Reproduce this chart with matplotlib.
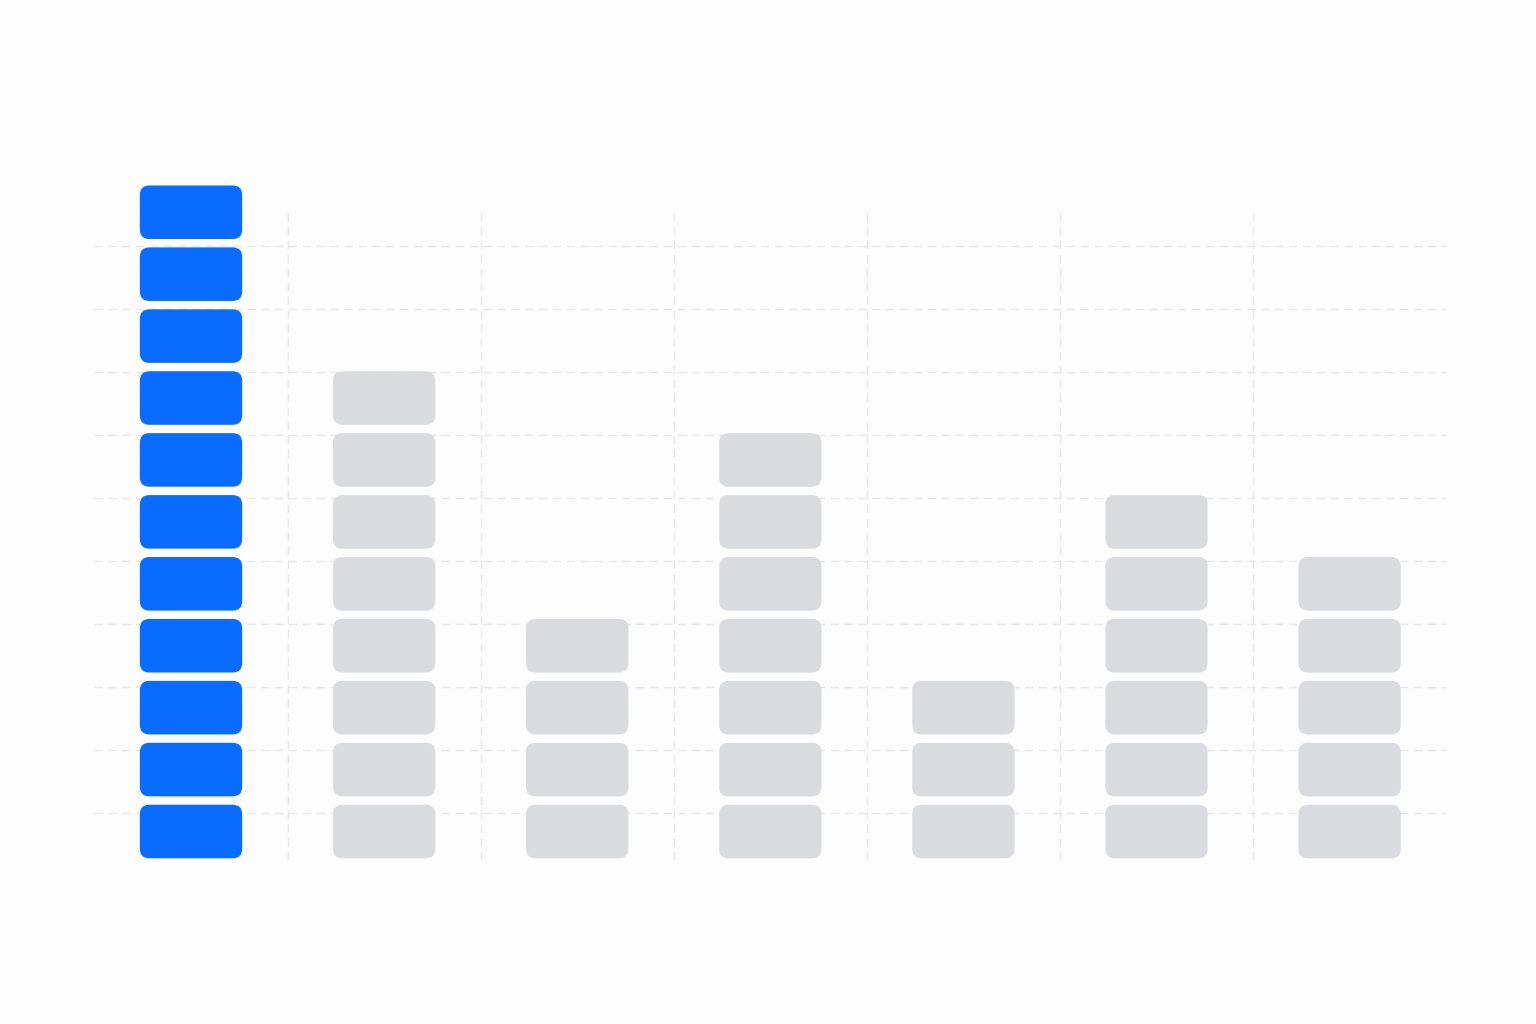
import numpy as np
import matplotlib
matplotlib.use("Agg")
import matplotlib.pyplot as plt
from matplotlib.patches import FancyBboxPatch

# stacked block counts per column (first column highlighted)
counts = [11, 8, 4, 7, 3, 6, 5]
highlight = [True, False, False, False, False, False, False]

blue = "#0A6CFF"
grey = "#D9DBDE"
grid_col = "#E6E7E9"

fig = plt.figure(figsize=(15.36, 10.24), dpi=100)
fig.patch.set_facecolor("#FDFDFD")
ax = fig.add_axes([0.0615, 0.160, 0.880, 0.635])
ax.set_facecolor("none")

ax.set_xlim(-0.5, 6.5)
ax.set_ylim(0, 10.5)

# pixels per data unit, used to keep the corners round
px_x = 0.880 * 1536 / 7.0
px_y = 0.635 * 1024 / 10.5
aspect = px_x / px_y

bw = 0.53
bh = 0.865
radius = 9.5 / px_x

for i, (n, hl) in enumerate(zip(counts, highlight)):
    for k in range(n):
        box = FancyBboxPatch((i - bw / 2, k + 0.03), bw, bh,
                             boxstyle="round,pad=0,rounding_size=%f" % radius,
                             mutation_aspect=aspect,
                             facecolor=blue if hl else grey,
                             edgecolor="none", zorder=3, clip_on=False)
        ax.add_patch(box)

# grid
ax.set_xticks(np.arange(0.5, 6.0, 1.0))
ax.set_yticks(np.linspace(0.76, 9.92, 10))
ax.grid(True, color=grid_col, linestyle=(0, (6, 4)), linewidth=1.0, zorder=0)
ax.tick_params(length=0, labelbottom=False, labelleft=False)
for s in ax.spines.values():
    s.set_visible(False)

fig.savefig("out.png", dpi=100, facecolor=fig.get_facecolor())
